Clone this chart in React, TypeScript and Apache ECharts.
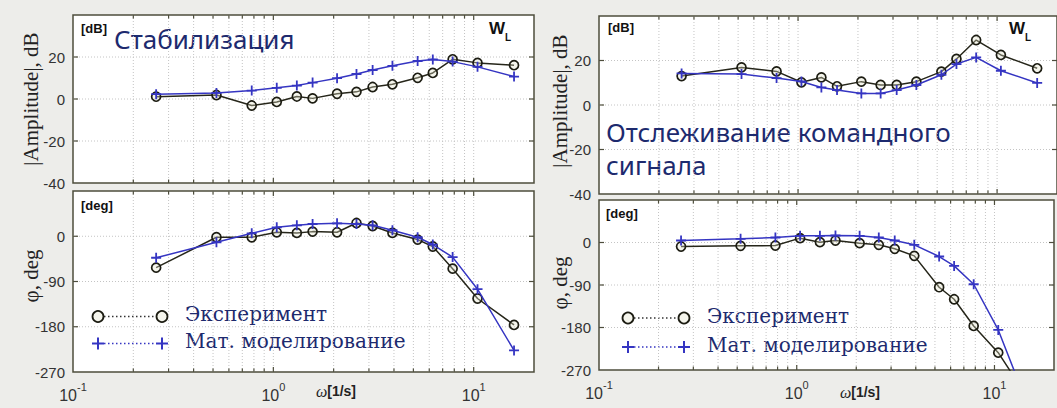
import React, { useEffect, useRef } from "react";
import * as echarts from "echarts";

// ---------- data ----------
const freq = [0.26, 0.52, 0.78, 1.04, 1.31, 1.57, 2.08, 2.6, 3.13, 3.93, 5.25, 6.25, 7.85, 10.45, 15.9];

const stabAmpExp = [1.1, 1.9, -3.1, -1.4, 1.2, 0.3, 2.5, 3.4, 5.7, 7.0, 10.1, 12.4, 18.9, 17.2, 16.1];
const stabAmpModel = [2.3, 2.9, 4.0, 5.3, 6.4, 7.8, 9.9, 11.9, 13.8, 15.8, 18.1, 18.8, 17.8, 15.3, 10.7];
const stabPhaseExp = [-62.5, -2, -2, 7.9, 6.6, 9.2, 7.9, 26.3, 20.4, 6.6, -6.6, -20.4, -64.5, -123.8, -176.4];
const stabPhaseModel = [-42.8, -11.9, 5.9, 17.8, 21.7, 24.4, 25.7, 24.4, 21.7, 11.9, -2, -16.5, -41.5, -105.3, -227];

const trackAmpExp = [13.0, 16.9, 15.1, 10.2, 12.4, 8.4, 10.5, 9.0, 9.0, 10.5, 15.0, 20.7, 29.2, 22.5, 16.5];
const trackAmpModel = [14.2, 13.9, 12.1, 10.6, 7.9, 6.7, 5.2, 5.2, 6.7, 9.0, 13.6, 18.4, 21.4, 15.4, 9.9];
const trackPhaseExp = [-8.5, -7.1, -6.4, 9.2, 0.7, 4.2, -1.4, -4.9, -13.4, -28.3, -94.7, -120.2, -176.7, -233.3, -350];
const trackPhaseModel = [4.2, 7.8, 10.6, 14.1, 14.1, 14.8, 14.1, 10.6, 4.2, -4.9, -29.7, -49.5, -88.4, -185.2, -380];

const xGridFreqs = [0.2, 0.3, 0.4, 0.5, 0.6, 0.7, 0.8, 0.9, 1, 2, 3, 4, 5, 6, 7, 8, 9, 10];
const xMajorFreqs = [1, 10];
const ampTicks = [20, 0, -20];
const phaseTicks = [0, -90, -180];

const titleStab = "Стабилизация";
const titleTrack1 = "Отслеживание командного";
const titleTrack2 = "сигнала";
const legendExp = "Эксперимент";
const legendModel = "Мат. моделирование";

// ---------- styles ----------
const FRAME = "#4d4d3c";
const GRIDC = "#c4c4c4";
const EXPC = "#26261a";
const MODC = "#3535c2";
const NAVY = "#1d2a6e";
const SANS = '"Liberation Sans", Arial, sans-serif';
const SERIF = '"Liberation Serif", "Times New Roman", serif';
const PLUS = "path://M4.1,0h1.8v10h-1.8zM0,4.1h10v1.8h-10z";

const grids = [
  { left: 73, top: 15, width: 461, height: 168 },
  { left: 73, top: 191, width: 461, height: 181 },
  { left: 599, top: 16, width: 461, height: 178 },
  { left: 599, top: 200, width: 461, height: 170 },
];

function xTickSeries(i: number, yv: number) {
  return {
    type: "custom",
    xAxisIndex: i,
    yAxisIndex: i,
    silent: true,
    clip: false,
    z: 1,
    data: xGridFreqs.map((f) => [f, yv]),
    renderItem: (params: any, api: any) => {
      const cs = params.coordSys;
      const f = api.value(0);
      const x = api.coord([f, api.value(1)])[0];
      const major = xMajorFreqs.indexOf(f) >= 0;
      const len = major ? 5 : 3.5;
      const b = cs.y + cs.height;
      return {
        type: "group",
        children: [
          { type: "line", shape: { x1: x, y1: cs.y, x2: x, y2: b }, style: { stroke: GRIDC, lineWidth: 1, lineDash: [1, 2] } },
          { type: "line", shape: { x1: x, y1: b, x2: x, y2: b - len }, style: { stroke: FRAME, lineWidth: 1.2 } },
          { type: "line", shape: { x1: x, y1: cs.y, x2: x, y2: cs.y + len }, style: { stroke: FRAME, lineWidth: 1.2 } },
        ],
      };
    },
  };
}

function yTickSeries(i: number, ticks: number[]) {
  return {
    type: "custom",
    xAxisIndex: i,
    yAxisIndex: i,
    silent: true,
    clip: false,
    z: 1,
    data: ticks.map((t) => [1, t]),
    renderItem: (params: any, api: any) => {
      const cs = params.coordSys;
      const y = api.coord([api.value(0), api.value(1)])[1];
      const r = cs.x + cs.width;
      return {
        type: "group",
        children: [
          { type: "line", shape: { x1: cs.x, y1: y, x2: r, y2: y }, style: { stroke: GRIDC, lineWidth: 1, lineDash: [1, 2] } },
          { type: "line", shape: { x1: cs.x, y1: y, x2: cs.x + 5, y2: y }, style: { stroke: FRAME, lineWidth: 1.2 } },
          { type: "line", shape: { x1: r, y1: y, x2: r - 5, y2: y }, style: { stroke: FRAME, lineWidth: 1.2 } },
        ],
      };
    },
  };
}

function lineSeries(i: number, vals: number[], isModel: boolean) {
  return {
    type: "line",
    xAxisIndex: i,
    yAxisIndex: i,
    data: freq.map((f, k) => [f, vals[k]]),
    z: isModel ? 4 : 3,
    lineStyle: { color: isModel ? MODC : EXPC, width: 1.5 },
    symbol: isModel ? PLUS : "circle",
    symbolSize: isModel ? 10 : 9,
    itemStyle: isModel
      ? { color: MODC }
      : { color: "rgba(225,225,200,0.35)", borderColor: "#1c1c12", borderWidth: 1.7 },
    emphasis: { disabled: true },
  };
}

function xLabelFormatter(v: number) {
  const e = Math.round(Math.log10(v));
  if (Math.abs(v - Math.pow(10, e)) > 1e-6 * v) return "";
  return `{b|10}{s|${e}}`;
}

const LEGEND_FONT = '20px "DejaVu Serif", serif';

function legend(x0: number, x1: number, xt: number, y1: number, y2: number, y1t: number, y2t: number) {
  return [
    { type: "line", shape: { x1: x0 + 6, y1: y1, x2: x1 - 6, y2: y1 }, style: { stroke: "#333", lineWidth: 1.5, lineDash: [1.5, 2.5] } },
    { type: "circle", shape: { cx: x0, cy: y1, r: 5.5 }, style: { fill: "rgba(225,225,200,0.35)", stroke: "#1c1c12", lineWidth: 1.8 } },
    { type: "circle", shape: { cx: x1, cy: y1, r: 5.5 }, style: { fill: "rgba(225,225,200,0.35)", stroke: "#1c1c12", lineWidth: 1.8 } },
    { type: "line", shape: { x1: x0 + 6, y1: y2, x2: x1 - 6, y2: y2 }, style: { stroke: MODC, lineWidth: 1.5, lineDash: [1.5, 2.5] } },
    { type: "line", shape: { x1: x0 - 6, y1: y2, x2: x0 + 6, y2: y2 }, style: { stroke: MODC, lineWidth: 2 } },
    { type: "line", shape: { x1: x0, y1: y2 - 6, x2: x0, y2: y2 + 6 }, style: { stroke: MODC, lineWidth: 2 } },
    { type: "line", shape: { x1: x1 - 6, y1: y2, x2: x1 + 6, y2: y2 }, style: { stroke: MODC, lineWidth: 2 } },
    { type: "line", shape: { x1: x1, y1: y2 - 6, x2: x1, y2: y2 + 6 }, style: { stroke: MODC, lineWidth: 2 } },
    { type: "text", x: xt, y: y1t, style: { text: legendExp, font: LEGEND_FONT, fill: NAVY, verticalAlign: "middle" } },
    { type: "text", x: xt, y: y2t, style: { text: legendModel, font: LEGEND_FONT, fill: NAVY, verticalAlign: "middle" } },
  ];
}

function rotText(x: number, y: number, text: string) {
  return {
    type: "text",
    x,
    y,
    rotation: Math.PI / 2,
    style: { text, font: `21px ${SERIF}`, fill: "#222", align: "center", verticalAlign: "middle" },
  };
}

function smallText(x: number, y: number, text: string) {
  return { type: "text", x, y, style: { text, font: `bold 13px ${SANS}`, fill: "#111", verticalAlign: "middle" } };
}

function wl(x: number, y: number) {
  return {
    type: "text",
    x,
    y,
    style: {
      text: "{w|W}{l|L}",
      verticalAlign: "middle",
      rich: {
        w: { fontFamily: SANS, fontWeight: "bold", fontSize: 17, fill: "#111", lineHeight: 22, verticalAlign: "top" },
        l: { fontFamily: SANS, fontWeight: "bold", fontSize: 10, fill: "#111", lineHeight: 22, verticalAlign: "bottom" },
      },
    },
  };
}

function omega(x: number, y: number) {
  return {
    type: "text",
    x,
    y,
    style: {
      text: "{o|ω}{u|[1/s]}",
      align: "center",
      verticalAlign: "middle",
      rich: {
        o: { fontFamily: SERIF, fontStyle: "italic", fontSize: 16, fill: "#222" },
        u: { fontFamily: SANS, fontWeight: "bold", fontSize: 14, fill: "#222" },
      },
    },
  };
}

export default function App() {
  const ref = useRef<HTMLDivElement>(null);
  useEffect(() => {
    if (!ref.current) return;
    const chart = echarts.init(ref.current, undefined, { renderer: "svg" });
    const xAxis = grids.map((_, i) => ({
      type: "log",
      logBase: 10,
      gridIndex: i,
      min: 0.1,
      max: 20,
      axisLine: { show: false },
      axisTick: { show: false },
      splitLine: { show: false },
      axisLabel: {
        show: i % 2 === 1,
        margin: 9,
        formatter: xLabelFormatter,
        rich: {
          b: { fontFamily: SANS, fontSize: 16, color: "#333", lineHeight: 22, verticalAlign: "bottom" },
          s: { fontFamily: SANS, fontSize: 11, color: "#333", lineHeight: 22, verticalAlign: "top" },
        },
      },
    }));
    const yAxis = grids.map((_, i) => {
      const amp = i % 2 === 0;
      return {
        type: "value",
        gridIndex: i,
        min: amp ? -40 : -270,
        max: amp ? 40 : 90,
        interval: amp ? 20 : 90,
        axisLine: { show: false },
        axisTick: { show: false },
        splitLine: { show: false },
        axisLabel: {
          margin: 8,
          fontFamily: SANS,
          fontSize: 15,
          color: "#333",
          formatter: (v: number) => (v === 40 || v === 90 ? "" : String(v)),
        },
      };
    });
    const series: any[] = [
      xTickSeries(0, 0), yTickSeries(0, ampTicks),
      xTickSeries(1, 0), yTickSeries(1, phaseTicks),
      xTickSeries(2, 0), yTickSeries(2, ampTicks),
      xTickSeries(3, 0), yTickSeries(3, phaseTicks),
      lineSeries(0, stabAmpExp, false), lineSeries(0, stabAmpModel, true),
      lineSeries(1, stabPhaseExp, false), lineSeries(1, stabPhaseModel, true),
      lineSeries(2, trackAmpExp, false), lineSeries(2, trackAmpModel, true),
      lineSeries(3, trackPhaseExp, false), lineSeries(3, trackPhaseModel, true),
    ];
    const graphic: any[] = [
      { type: "text", x: 114, y: 39, style: { text: titleStab, font: '26px "Noto Sans", sans-serif', fill: NAVY, verticalAlign: "middle" } },
      { type: "text", x: 606, y: 132, style: { text: titleTrack1, font: '26px "Noto Sans", sans-serif', fill: NAVY, verticalAlign: "middle" } },
      { type: "text", x: 606, y: 165, style: { text: titleTrack2, font: '26px "Noto Sans", sans-serif', fill: NAVY, verticalAlign: "middle" } },
      smallText(81, 28, "[dB]"),
      smallText(81, 205, "[deg]"),
      smallText(608, 27, "[dB]"),
      smallText(606, 213, "[deg]"),
      wl(489, 31),
      wl(1009, 31),
      rotText(31, 99, "|Amplitude|, dB"),
      rotText(31, 276, "φ, deg"),
      rotText(560, 101, "|Amplitude|, dB"),
      rotText(560, 283, "φ, deg"),
      omega(336, 391),
      omega(860, 392),
      ...legend(98, 162, 185, 316.5, 343.5, 314, 341),
      ...legend(628, 684, 707, 318, 347, 316, 345),
    ];
    chart.setOption({
      animation: false,
      backgroundColor: "#ededea",
      grid: grids.map((g) => ({ ...g, show: true, backgroundColor: "#ffffff", borderColor: FRAME, borderWidth: 1.5 })),
      xAxis,
      yAxis,
      series,
      graphic,
    });
    return () => chart.dispose();
  }, []);
  return <div ref={ref} style={{ position: "fixed", left: 0, top: 0, width: 1057, height: 408 }} />;
}
